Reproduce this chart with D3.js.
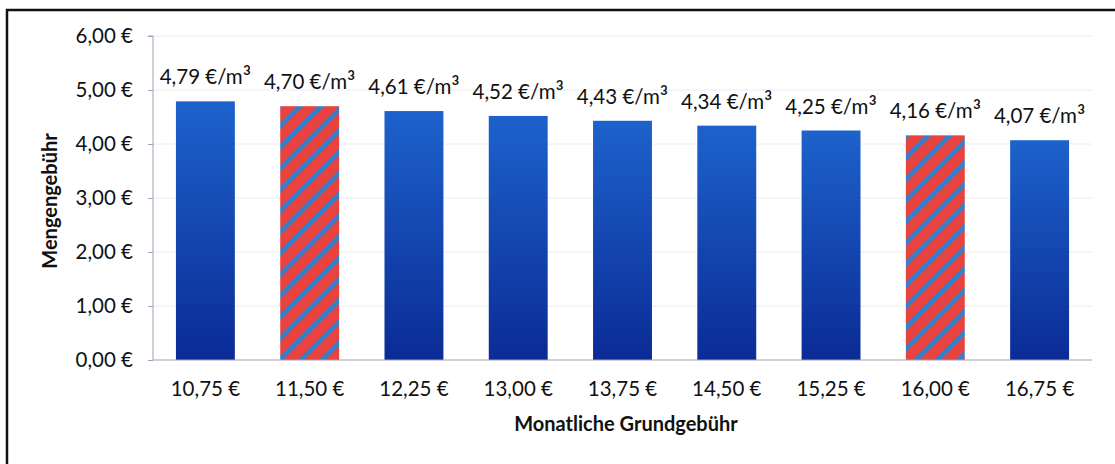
<!DOCTYPE html>
<html><head><meta charset="utf-8">
<script src="https://cdn.jsdelivr.net/npm/d3@7"></script>
<style>body{margin:0;background:#fff}svg{display:block}text{font-family:Lato,"Open Sans",sans-serif;fill:#111}</style>
</head><body>
<svg id="c" width="1115" height="464"></svg>
<script>
const categories = ["10,75 €","11,50 €","12,25 €","13,00 €","13,75 €","14,50 €","15,25 €","16,00 €","16,75 €"];
const values = [4.79,4.70,4.61,4.52,4.43,4.34,4.25,4.16,4.07];
const highlighted = [false,true,false,false,false,false,false,true,false];
const yTicks = [0,1,2,3,4,5,6];

const svg = d3.select("#c");
const m = {left:153, right:1092, top:36, bottom:360};
const x = d3.scaleBand().domain(categories).range([m.left,m.right]).paddingInner(0.435).paddingOuter(0.22);
const y = d3.scaleLinear().domain([0,6]).range([m.bottom,m.top]);
const fmt = v => v.toFixed(2).replace(".",",");

const defs = svg.append("defs");
const g = defs.append("linearGradient").attr("id","bg").attr("x1",0).attr("y1",0).attr("x2",0).attr("y2",1);
g.append("stop").attr("offset","0%").attr("stop-color","#1d62cc");
g.append("stop").attr("offset","100%").attr("stop-color","#0b2b95");
const p = defs.append("pattern").attr("id","st").attr("patternUnits","userSpaceOnUse")
  .attr("width",15).attr("height",15).attr("patternTransform","rotate(-45)");
p.append("rect").attr("width",15).attr("height",15).attr("fill","#e8433f");
p.append("rect").attr("width",15).attr("height",4.5).attr("fill","#2f80cf");

// frame
svg.append("path").attr("d","M7,464 V10 H1115").attr("fill","none").attr("stroke","#111").attr("stroke-width",2.5);

// gridlines
svg.append("g").selectAll("line").data(yTicks.slice(1)).join("line")
  .attr("x1",m.left).attr("x2",m.right).attr("y1",d=>y(d)).attr("y2",d=>y(d))
  .attr("stroke","#ececf2").attr("stroke-width",1);

// y axis
const ya = svg.append("g").attr("transform",`translate(${m.left},0)`)
  .call(d3.axisLeft(y).tickValues(yTicks).tickSize(5).tickFormat(d=>fmt(d)+" €"));
ya.selectAll("path,line").attr("stroke","#a79db5");
ya.select(".domain").attr("d",`M-5,${y(6)}H0V${y(0)}`);
ya.selectAll("text").attr("x",-20).style("font-size","20.5px").attr("fill","#111").attr("font-family","Lato");

// bars
svg.append("g").selectAll("rect").data(values).join("rect")
  .attr("x",(d,i)=>x(categories[i])).attr("width",x.bandwidth())
  .attr("y",d=>y(d)).attr("height",d=>y(0)-y(d))
  .attr("fill",(d,i)=>highlighted[i]?"url(#st)":"url(#bg)");

// x axis
const xa = svg.append("g").attr("transform",`translate(0,${m.bottom})`)
  .call(d3.axisBottom(x).tickSize(0).tickPadding(0));
xa.select(".domain").attr("stroke","#a79db5").attr("d",`M${m.left},0H${m.right}`);
xa.selectAll("text").attr("y",29).attr("dy","0.32em").style("font-size","20.5px").attr("fill","#111").attr("font-family","Lato");

// value labels
const vl = svg.append("g").selectAll("text").data(values).join("text")
  .attr("x",(d,i)=>x(categories[i])+x.bandwidth()/2).attr("y",d=>y(d)-17)
  .attr("text-anchor","middle").style("font-size","20.5px");
vl.append("tspan").text(d=>fmt(d)+" €/m");
vl.append("tspan").style("font-size","25px").attr("dy",2).text("³");

// titles
svg.append("text").attr("x",626).attr("y",431).attr("text-anchor","middle")
  .style("font-size","20px").style("font-weight","bold").text("Monatliche Grundgebühr");
svg.append("text").attr("transform","translate(57,201) rotate(-90)").attr("text-anchor","middle")
  .style("font-size","20px").style("font-weight","bold").text("Mengengebühr");
</script>
</body></html>
